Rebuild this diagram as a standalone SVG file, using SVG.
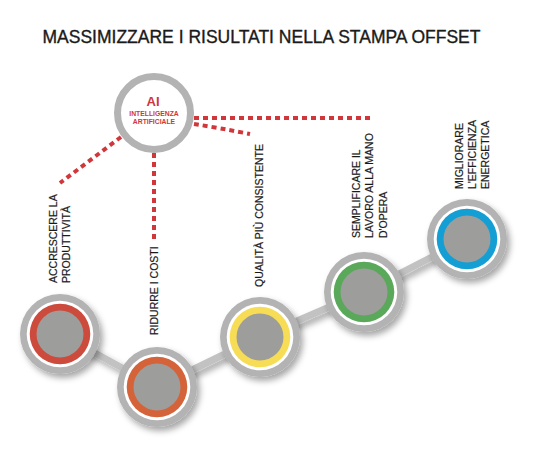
<svg xmlns="http://www.w3.org/2000/svg" width="534" height="462" viewBox="0 0 534 462">
<defs>
<style>
.title{font-family:"Liberation Sans",Arial,sans-serif;font-size:17.5px;fill:#1a1a1a;stroke:#1a1a1a;stroke-width:0.35}
.lbl{font-family:"Liberation Sans",Arial,sans-serif;font-size:10.5px;fill:#1a1a1a;stroke:#1a1a1a;stroke-width:0.2}
.ai{font-family:"Liberation Sans",Arial,sans-serif;font-weight:bold;fill:#d0363a;text-anchor:middle}
.dot{fill:none;stroke:#d0363a;stroke-width:4;stroke-dasharray:5 4}
.link{stroke:#c2c2c2;stroke-width:7;stroke-linecap:round}
.outer{fill:#b3b3b3}
.white{fill:#ffffff}
.core{fill:#9d9d9b}
</style>
<filter id="sh" x="-30%" y="-30%" width="170%" height="170%">
<feDropShadow dx="3" dy="4" stdDeviation="3" flood-color="#000" flood-opacity="0.35"/>
</filter>
</defs>
<rect width="534" height="462" fill="#ffffff"/>
<text class="title" x="261.5" y="42.5" text-anchor="middle" textLength="438" lengthAdjust="spacingAndGlyphs">MASSIMIZZARE I RISULTATI NELLA STAMPA OFFSET</text>

<g id="connectors">
<g filter="url(#sh)">
<line class="link" x1="60" y1="334" x2="157" y2="387"/>
<line class="link" x1="157" y1="387" x2="260" y2="337"/>
<line class="link" x1="260" y1="337" x2="364" y2="292"/>
<line class="link" x1="364" y1="292" x2="467" y2="239"/>
</g>
<path class="dot" d="M194 118 L370 118"/>
<path class="dot" d="M194 124 Q220 128 250 134"/>
<path class="dot" d="M154 153 L154 241"/>
<path class="dot" d="M121 137 L60 183"/>
</g>

<g id="ai-node">
<circle cx="154" cy="113" r="36.5" fill="#ffffff" stroke="#b3b3b3" stroke-width="7"/>
<text class="ai" x="153" y="106" font-size="13">AI</text>
<text class="ai" x="154" y="115.7" font-size="6.8">INTELLIGENZA</text>
<text class="ai" x="154" y="124.2" font-size="6.8">ARTIFICIALE</text>
</g>

<g id="node-produttivita">
<g filter="url(#sh)"><circle class="outer" cx="60" cy="334" r="40"/></g>
<circle class="white" cx="60" cy="334" r="33.3"/>
<circle cx="60" cy="334" r="30.3" fill="#cc4b3c"/>
<circle class="core" cx="60" cy="334" r="23.5"/>
<text class="lbl" transform="translate(57,283) rotate(-90)"><tspan x="0" y="0">ACCRESCERE LA</tspan><tspan x="0" dy="13">PRODUTTIVITÀ</tspan></text>
</g>

<g id="node-costi">
<g filter="url(#sh)"><circle class="outer" cx="157" cy="387" r="40"/></g>
<circle class="white" cx="157" cy="387" r="33.3"/>
<circle cx="157" cy="387" r="30.3" fill="#d5633a"/>
<circle class="core" cx="157" cy="387" r="23.5"/>
<text class="lbl" transform="translate(158,335) rotate(-90)">RIDURRE I COSTI</text>
</g>

<g id="node-qualita">
<g filter="url(#sh)"><circle class="outer" cx="260" cy="337" r="40"/></g>
<circle class="white" cx="260" cy="337" r="33.3"/>
<circle cx="260" cy="337" r="30.3" fill="#f7dc55"/>
<circle class="core" cx="260" cy="337" r="23.5"/>
<text class="lbl" transform="translate(263,287) rotate(-90)">QUALITÀ PIÙ CONSISTENTE</text>
</g>

<g id="node-lavoro">
<g filter="url(#sh)"><circle class="outer" cx="364" cy="292" r="40"/></g>
<circle class="white" cx="364" cy="292" r="33.3"/>
<circle cx="364" cy="292" r="30.3" fill="#5aa85a"/>
<circle class="core" cx="364" cy="292" r="23.5"/>
<text class="lbl" transform="translate(360,238) rotate(-90)"><tspan x="0" y="0">SEMPLIFICARE IL</tspan><tspan x="0" dy="13.3">LAVORO ALLA MANO</tspan><tspan x="0" dy="13.3">D'OPERA</tspan></text>
</g>

<g id="node-energia">
<g filter="url(#sh)"><circle class="outer" cx="467" cy="239" r="40"/></g>
<circle class="white" cx="467" cy="239" r="33.3"/>
<circle cx="467" cy="239" r="30.3" fill="#139fd4"/>
<circle class="core" cx="467" cy="239" r="23.5"/>
<text class="lbl" transform="translate(463,189) rotate(-90)"><tspan x="0" y="0">MIGLIORARE</tspan><tspan x="0" dy="13">L'EFFICIENZA</tspan><tspan x="0" dy="13">ENERGETICA</tspan></text>
</g>
</svg>
